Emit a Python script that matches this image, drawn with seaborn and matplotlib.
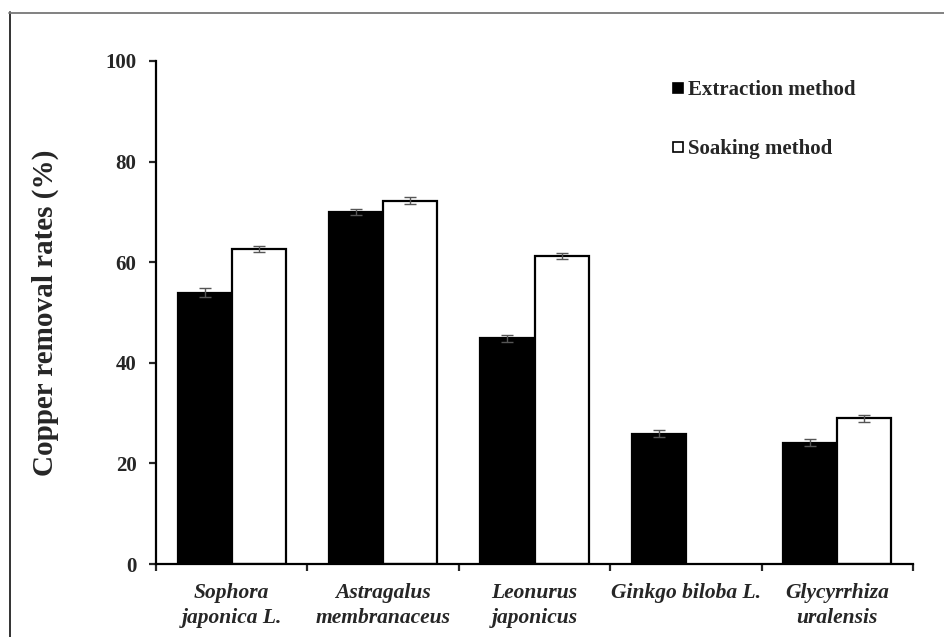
import numpy as np
import pandas as pd
import seaborn as sns
import matplotlib
matplotlib.use("Agg")
import matplotlib.pyplot as plt
from matplotlib.lines import Line2D

# ---- data ----
categories = ["Sophora\njaponica L.", "Astragalus\nmembranaceus", "Leonurus\njaponicus",
              "Ginkgo biloba L.", "Glycyrrhiza\nuralensis"]
methods = ["Extraction method", "Soaking method"]
extraction = [53.9, 70.0, 44.9, 25.9, 24.1]
soaking = [62.6, 72.2, 61.2, np.nan, 29.0]
extraction_err = [0.9, 0.6, 0.7, 0.7, 0.7]
soaking_err = [0.6, 0.7, 0.6, np.nan, 0.7]
yticks = [0, 20, 40, 60, 80, 100]

df = pd.DataFrame({
    "species": categories * 2,
    "method": [methods[0]] * 5 + [methods[1]] * 5,
    "rate": extraction + soaking,
    "err": extraction_err + soaking_err,
})

sns.set_style("ticks")
plt.rcParams["font.family"] = ["Liberation Serif", "DejaVu Serif"]

fig = plt.figure(figsize=(9.44, 6.37), dpi=100)
ax = fig.add_axes([156/944, 1-564/637, (913-156)/944, (564-61)/637])

sns.barplot(data=df, x="species", y="rate", hue="method", order=categories,
            hue_order=methods, palette=["black", "white"], width=0.715,
            errorbar=None, edgecolor="black", linewidth=1.6, ax=ax, legend=False,
            saturation=1)

# error bars
for i, cat in enumerate(categories):
    for j, m in enumerate(methods):
        row = df[(df.species == cat) & (df.method == m)].iloc[0]
        if np.isnan(row.rate):
            continue
        for p in ax.patches:
            cx = p.get_x() + p.get_width() / 2
            if abs(p.get_height() - row.rate) < 1e-9 and abs(cx - i) < 0.5:
                ax.errorbar(cx, row.rate, yerr=row.err, fmt="none", ecolor="#555555",
                            elinewidth=1.0, capsize=4, capthick=1.0, zorder=5)
                break

ax.set_xlim(-0.5, 4.5)
ax.set_ylim(0, 100)
ax.set_yticks(yticks)
ax.set_yticklabels([str(v) for v in yticks], fontsize=15, fontweight="bold")
ax.set_xticks(range(len(categories)))
ax.set_xticklabels(categories, fontsize=15.5, fontweight="bold", fontstyle="italic",
                   linespacing=1.3)
ax.set_xticks(np.arange(-0.5, 5, 1), minor=True)
ax.tick_params(axis="x", which="major", length=0, pad=14)
ax.tick_params(axis="x", which="minor", length=5, width=1.6, direction="out")
ax.tick_params(axis="y", length=5, width=1.6, direction="out", pad=9)
ax.set_xlabel("")
ax.set_ylabel("Copper removal rates (%)", fontsize=21, fontweight="bold")
ax.yaxis.set_label_coords(-0.128, 0.5)

sns.despine(ax=ax)
for s in ["left", "bottom"]:
    ax.spines[s].set_linewidth(1.6)
    ax.spines[s].set_color("black")

handles = [Line2D([], [], marker="s", linestyle="none", markerfacecolor=c,
                  markeredgecolor="black", markeredgewidth=1.2, markersize=6.5)
           for c in ["black", "white"]]
leg = ax.legend(handles, methods, loc="upper left",
                bbox_to_anchor=(662/944, 1-70/637), bbox_transform=fig.transFigure,
                frameon=False, borderpad=0, handlelength=0.55, handletextpad=0.2,
                labelspacing=1.85, prop={"family": "Liberation Serif", "weight": "bold", "size": 15})

# figure border (partially cropped in the reference)
fig.add_artist(Line2D([9.5/944, 9.5/944], [0, 1-12/637], transform=fig.transFigure,
                      color="#222222", linewidth=1.3))
fig.add_artist(Line2D([9/944, 1], [1-12.5/637, 1-12.5/637], transform=fig.transFigure,
                      color="#777777", linewidth=1.3))

fig.savefig("out.png", dpi=100)
